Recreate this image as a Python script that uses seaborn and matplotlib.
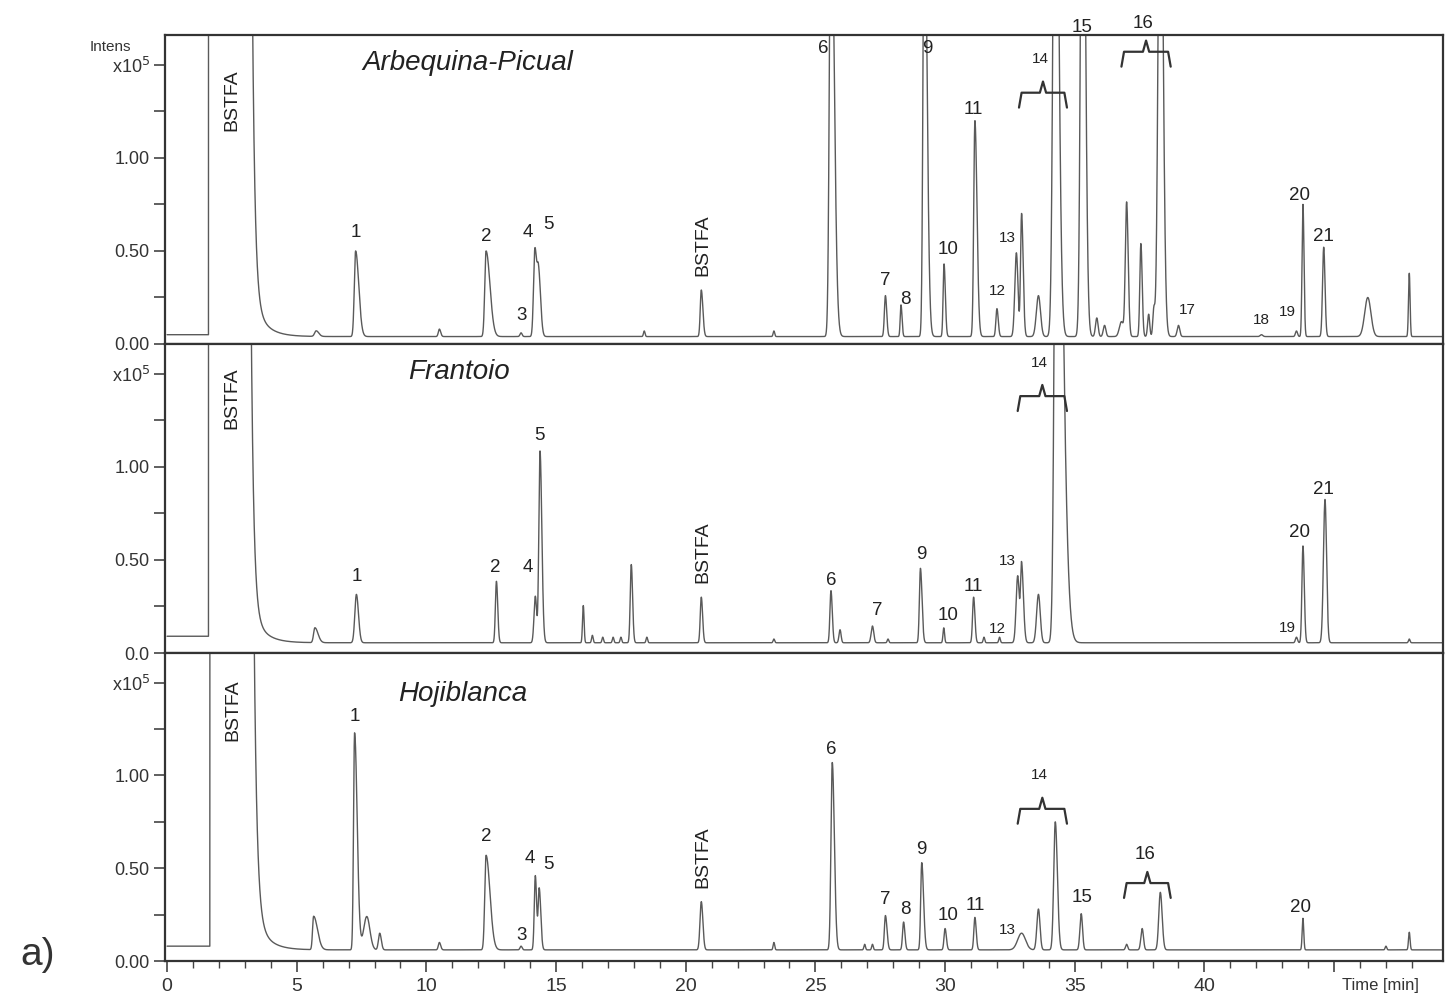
import numpy as np
import pandas as pd
import matplotlib
matplotlib.use("Agg")
import matplotlib.pyplot as plt
import seaborn as sns

sns.set_style("ticks")
plt.rcParams["font.family"] = ["Liberation Sans", "DejaVu Sans"]

# ── chromatogram peaks: retention time [min], height above baseline (x10^5),
#    left / right peak width (sigma, min) ────────────────────────────────────
arb_rt = [5.75, 7.27, 10.5, 12.3, 13.65, 14.18, 14.32, 18.4, 20.6, 23.4, 25.6, 27.7,
          28.3, 29.2, 29.96, 31.15, 32.0, 32.75, 32.95, 33.6, 34.25, 35.3, 35.85,
          36.15, 36.8, 37.0, 37.55, 37.85, 38.05, 38.3, 39.0, 42.2, 43.55, 43.8,
          44.6, 46.3, 47.9]
arb_h = [0.03, 0.46, 0.04, 0.46, 0.02, 0.45, 0.36, 0.03, 0.25, 0.03, 2.5, 0.22,
         0.17, 2.5, 0.39, 1.16, 0.15, 0.45, 0.66, 0.22, 3.5, 3.5, 0.10,
         0.06, 0.08, 0.72, 0.50, 0.12, 0.14, 3.0, 0.06, 0.01, 0.03, 0.71,
         0.48, 0.21, 0.34]
arb_wl = [0.06, 0.05, 0.04, 0.05, 0.04, 0.05, 0.06, 0.03, 0.04, 0.03, 0.06, 0.04,
          0.03, 0.05, 0.035, 0.045, 0.04, 0.06, 0.04, 0.08, 0.08, 0.07, 0.05,
          0.05, 0.08, 0.05, 0.04, 0.04, 0.04, 0.08, 0.05, 0.05, 0.04, 0.035,
          0.045, 0.12, 0.03]
arb_wr = [0.10, 0.12, 0.05, 0.15, 0.04, 0.06, 0.08, 0.03, 0.06, 0.03, 0.12, 0.05,
          0.04, 0.10, 0.05, 0.08, 0.05, 0.06, 0.06, 0.08, 0.12, 0.10, 0.05,
          0.05, 0.08, 0.06, 0.05, 0.04, 0.04, 0.10, 0.05, 0.05, 0.04, 0.04,
          0.05, 0.12, 0.03]

fra_rt = [5.7, 7.3, 12.7, 14.2, 14.38, 16.05, 16.4, 16.8, 17.2, 17.5, 17.9, 18.5,
          20.6, 23.4, 25.6, 25.95, 27.2, 27.8, 29.05, 29.95, 31.1, 31.5, 32.1,
          32.8, 32.95, 33.6, 34.3, 43.55, 43.8, 44.65, 47.9]
fra_h = [0.08, 0.26, 0.33, 0.25, 1.03, 0.20, 0.04, 0.03, 0.03, 0.03, 0.42, 0.03,
         0.245, 0.02, 0.28, 0.07, 0.09, 0.02, 0.40, 0.08, 0.245, 0.03, 0.03,
         0.36, 0.42, 0.26, 3.5, 0.03, 0.52, 0.77, 0.02]
fra_wl = [0.05, 0.06, 0.04, 0.05, 0.045, 0.03, 0.03, 0.03, 0.03, 0.03, 0.04, 0.03,
          0.04, 0.03, 0.04, 0.04, 0.05, 0.03, 0.04, 0.03, 0.04, 0.03, 0.03,
          0.06, 0.04, 0.07, 0.08, 0.04, 0.04, 0.06, 0.03]
fra_wr = [0.12, 0.08, 0.05, 0.05, 0.07, 0.03, 0.03, 0.03, 0.03, 0.03, 0.05, 0.03,
          0.05, 0.03, 0.05, 0.04, 0.05, 0.03, 0.06, 0.03, 0.05, 0.03, 0.03,
          0.06, 0.07, 0.07, 0.22, 0.04, 0.05, 0.06, 0.03]

hoj_rt = [5.65, 7.23, 7.7, 8.2, 10.5, 12.3, 13.65, 14.2, 14.35, 20.6, 23.4, 25.65,
          26.9, 27.2, 27.7, 28.4, 29.1, 30.0, 31.15, 32.95, 33.6, 34.25, 35.25,
          37.0, 37.6, 38.3, 43.8, 47.0, 47.9]
hoj_h = [0.18, 1.17, 0.18, 0.09, 0.04, 0.51, 0.02, 0.40, 0.33, 0.26, 0.04, 1.01,
         0.03, 0.03, 0.185, 0.15, 0.47, 0.115, 0.175, 0.09, 0.22, 0.69, 0.195,
         0.03, 0.115, 0.31, 0.17, 0.02, 0.095]
hoj_wl = [0.04, 0.04, 0.12, 0.05, 0.04, 0.05, 0.04, 0.04, 0.04, 0.05, 0.03, 0.05,
          0.03, 0.03, 0.04, 0.04, 0.04, 0.04, 0.04, 0.15, 0.06, 0.06, 0.05,
          0.04, 0.05, 0.06, 0.03, 0.03, 0.03]
hoj_wr = [0.15, 0.10, 0.12, 0.06, 0.05, 0.15, 0.04, 0.05, 0.06, 0.06, 0.03, 0.08,
          0.03, 0.03, 0.06, 0.05, 0.07, 0.05, 0.05, 0.15, 0.06, 0.08, 0.05,
          0.04, 0.05, 0.07, 0.03, 0.03, 0.03]

# baseline, level before solvent, solvent window, solvent tail (fast/slow)
arb_base = dict(base=0.04, pre=0.05, s0=1.6, s1=3.2, fa=4.0, ft=0.10, sa=0.25, st=0.45)
fra_base = dict(base=0.055, pre=0.09, s0=1.6, s1=3.15, fa=4.0, ft=0.10, sa=0.22, st=0.45)
hoj_base = dict(base=0.06, pre=0.08, s0=1.65, s1=3.25, fa=4.0, ft=0.11, sa=0.25, st=0.45)

# ── peak labels (text, time, intensity) ─────────────────────────────────────
arb_lbl = ["1", "2", "3", "4", "5", "6", "7", "8", "9", "10", "11", "12", "13",
           "15", "17", "18", "19", "20", "21"]
arb_lbl_t = [7.27, 12.3, 13.65, 13.9, 14.7, 25.3, 27.7, 28.45, 29.3, 30.1, 31.1,
             32.0, 32.4, 35.27, 39.35, 42.2, 43.2, 43.65, 44.6]
arb_lbl_v = [0.60, 0.58, 0.155, 0.60, 0.64, 1.59, 0.34, 0.24, 1.59, 0.51, 1.26,
             0.285, 0.57, 1.70, 0.18, 0.13, 0.17, 0.80, 0.575]

fra_lbl = ["1", "2", "4", "5", "6", "7", "9", "10", "11", "12", "13", "19", "20", "21"]
fra_lbl_t = [7.3, 12.65, 13.9, 14.35, 25.6, 27.4, 29.1, 30.1, 31.1, 32.0, 32.4,
             43.2, 43.65, 44.6]
fra_lbl_v = [0.41, 0.46, 0.46, 1.17, 0.39, 0.23, 0.53, 0.20, 0.355, 0.13, 0.495,
             0.135, 0.645, 0.876]

hoj_lbl = ["1", "2", "3", "4", "5", "6", "7", "8", "9", "10", "11", "13", "15", "20"]
hoj_lbl_t = [7.23, 12.3, 13.65, 14.0, 14.7, 25.6, 27.7, 28.45, 29.1, 30.1, 31.15,
             32.4, 35.27, 43.7]
hoj_lbl_v = [1.32, 0.67, 0.14, 0.55, 0.52, 1.14, 0.33, 0.28, 0.60, 0.245, 0.30,
             0.165, 0.34, 0.29]

small_lbl = {"12", "13", "14", "17", "18", "19"}

# bracketed groups: label, start, end, bracket level, label level
arb_grp = [("14", 32.85, 34.7, 1.27, 1.53), ("16", 36.8, 38.7, 1.49, 1.72)]
fra_grp = [("14", 32.8, 34.7, 1.30, 1.56)]
hoj_grp = [("14", 32.8, 34.7, 0.74, 1.00), ("16", 36.9, 38.7, 0.34, 0.575)]

# BSTFA labels (time, intensity)
arb_bstfa = [(2.5, 1.31), (20.65, 0.53)]
fra_bstfa = [(2.5, 1.37), (20.65, 0.54)]
hoj_bstfa = [(2.55, 1.35), (20.65, 0.56)]

names = ["Arbequina-Picual", "Frantoio", "Hojiblanca"]
name_t = [11.6, 11.25, 11.4]
name_v = [1.51, 1.51, 1.44]

x_max = 49.2
y_max = 1.66
time = np.arange(0, x_max, 0.004)


def build_trace(rt, h, wl, wr, p):
    y = np.full_like(time, p["base"])
    for tc, hh, sl, sr in zip(rt, h, wl, wr):
        sig = np.where(time < tc, sl, sr)
        y += hh * np.exp(-0.5 * ((time - tc) / sig) ** 2)
    after = time >= p["s1"]
    dt = np.clip(time - p["s1"], 0, None)
    y += np.where(after, p["fa"] * np.exp(-dt / p["ft"]) + p["sa"] * np.exp(-dt / p["st"]), 0)
    y = np.where((time >= p["s0"]) & (time < p["s1"]), 5.0, y)
    y = np.where(time < p["s0"], p["pre"], y)
    return y


panels = [
    (arb_rt, arb_h, arb_wl, arb_wr, arb_base, arb_lbl, arb_lbl_t, arb_lbl_v, arb_grp, arb_bstfa),
    (fra_rt, fra_h, fra_wl, fra_wr, fra_base, fra_lbl, fra_lbl_t, fra_lbl_v, fra_grp, fra_bstfa),
    (hoj_rt, hoj_h, hoj_wl, hoj_wr, hoj_base, hoj_lbl, hoj_lbl_t, hoj_lbl_v, hoj_grp, hoj_bstfa),
]

fig = plt.figure(figsize=(14.45, 9.99), dpi=100)
left, width = 165 / 1445, (1443 - 165) / 1445
tops = [35, 344, 653]
bots = [344, 653, 961]
txt_c = "#222222"
line_c = "#5a5a5a"

for i, (rt, h, wl, wr, p, lbl, lt, lv, grp, bst) in enumerate(panels):
    ax = fig.add_axes([left, 1 - bots[i] / 999, width, (bots[i] - tops[i]) / 999])
    df = pd.DataFrame({"time": time, "intens": build_trace(rt, h, wl, wr, p)})
    sns.lineplot(data=df, x="time", y="intens", ax=ax, color=line_c, linewidth=1.0,
                 estimator=None, sort=False)
    ax.set_xlim(-0.08, x_max)
    ax.set_ylim(0, y_max)
    ax.set_xlabel("")
    ax.set_ylabel("")
    for s in ax.spines.values():
        s.set_color("#333333")
        s.set_linewidth(1.6)

    # y axis
    ax.set_yticks([0, 0.5, 1.0, 1.5])
    zero = "0.0" if i == 1 else "0.00"
    ax.set_yticklabels([zero, "0.50", "1.00", r"x10$^5$"])
    ax.set_yticks([0.25, 0.75, 1.25], minor=True)
    ax.tick_params(axis="y", which="both", direction="out", length=8, width=1.2,
                   colors="#444444", labelsize=13, pad=3, labelcolor="#333333")

    # x axis
    ax.set_xticks(np.arange(0, 50, 5))
    ax.set_xticks(np.arange(0, 49, 1), minor=True)
    if i < 2:
        ax.tick_params(axis="x", which="both", bottom=False, labelbottom=False)
    else:
        ax.set_xticklabels([str(v) for v in range(0, 45, 5)] + [""])
        ax.tick_params(axis="x", which="major", direction="out", length=8, width=1.2,
                       colors="#444444", labelsize=14, labelcolor="#333333", pad=4)
        ax.tick_params(axis="x", which="minor", direction="out", length=5, width=1.0,
                       colors="#444444")
        ax.text(45.3, -0.08, "Time [min]", transform=ax.get_xaxis_transform(),
                ha="left", va="center", fontsize=12, color="#333333")

    # peak labels
    for s, tx, vy in zip(lbl, lt, lv):
        fs = 11 if s in small_lbl else 13.5
        ax.text(tx, vy, s, ha="center", va="center", fontsize=fs, color=txt_c,
                clip_on=False)

    # bracketed groups
    for s, x0, x1, yb, yl in grp:
        xm = (x0 + x1) / 2
        bar = yb + 0.08
        tip = yb + 0.14
        bx = [x0, x0 + 0.1, xm - 0.12, xm, xm + 0.12, x1 - 0.1, x1]
        by = [yb, bar, bar, tip, bar, bar, yb]
        ax.plot(bx, by, color="#333333", linewidth=1.6, clip_on=False,
                solid_joinstyle="round")
        ax.text(xm - 0.1, yl, s, ha="center", va="center",
                fontsize=11 if s == "14" else 13.5, color=txt_c, clip_on=False)

    for tx, vy in bst:
        ax.text(tx, vy, "BSTFA", rotation=90, ha="center", va="center",
                fontsize=14, color=txt_c)

    ax.text(name_t[i], name_v[i], names[i], ha="center", va="center",
            fontsize=20, style="italic", color=txt_c)

fig.text(110 / 1445, 1 - 47 / 999, "Intens", ha="center", va="center",
         fontsize=11, color="#333333")
fig.text(38 / 1445, 1 - 955 / 999, "a)", ha="center", va="center",
         fontsize=28, color="#333333")

fig.savefig("out.png", dpi=100)
